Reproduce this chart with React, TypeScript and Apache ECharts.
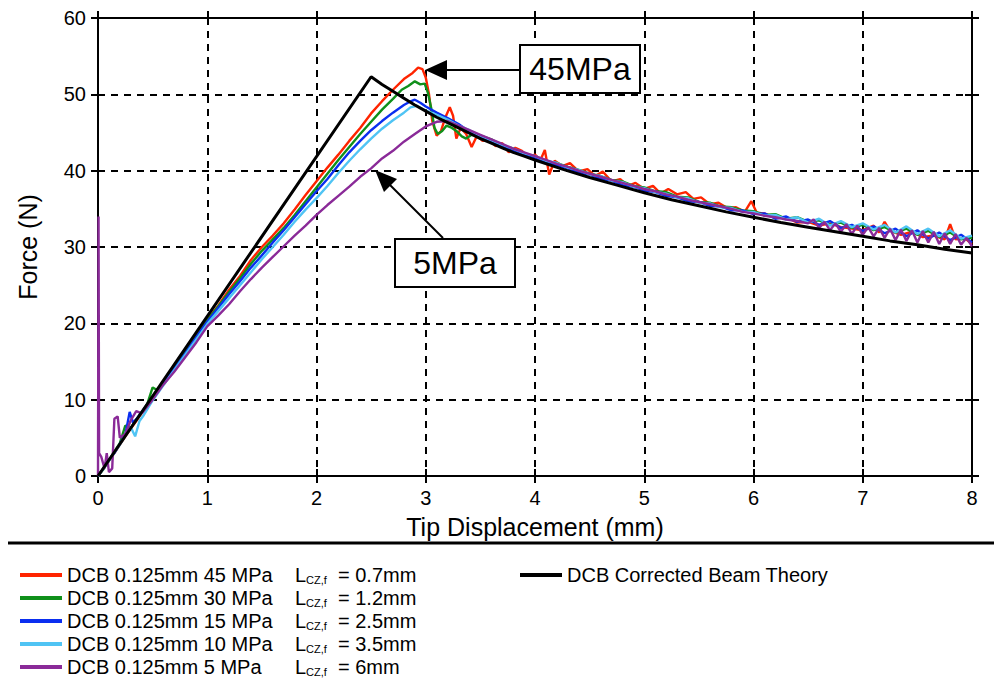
import React, { useEffect, useRef } from "react";
import * as echarts from "echarts";

const FONT = "'Liberation Sans', Arial, sans-serif";

const X_TICKS = [0, 8, 1];
const Y_TICKS = [0, 60, 10];

const SERIES_NAMES = [
  "DCB 0.125mm 45 MPa",
  "DCB 0.125mm 30 MPa",
  "DCB 0.125mm 15 MPa",
  "DCB 0.125mm 10 MPa",
  "DCB 0.125mm 5 MPa",
];
const LCZ_VALUES = ["0.7mm", "1.2mm", "2.5mm", "3.5mm", "6mm"];
const THEORY_NAME = "DCB Corrected Beam Theory";
const COLORS = ["#ff2400", "#10901a", "#0a2ef0", "#50c4f4", "#8a2a98"];

const RED_45 = [
  [0, 0], [0.05, 1.0], [0.1, 2.0], [0.15, 3.0], [0.2, 4.1], [0.25, 5.2], [0.3, 6.2], [0.35, 7.2], [0.4, 8.2],
  [0.5, 10.2], [0.6, 12.1], [0.7, 14.3], [0.8, 16.4], [0.9, 18.4], [1.0, 20.5], [1.1, 22.3], [1.2, 24.4],
  [1.3, 26.2], [1.4, 28.3], [1.5, 30.0], [1.6, 31.5], [1.7, 33.1], [1.8, 34.9], [1.9, 36.8], [2.0, 38.6],
  [2.1, 40.4], [2.2, 42.1], [2.3, 43.9], [2.4, 45.6], [2.5, 47.5], [2.6, 49.1], [2.7, 50.6], [2.8, 52.0],
  [2.88, 52.8], [2.93, 53.5], [2.97, 53.3], [3.0, 52.2], [3.03, 50.0], [3.06, 46.5], [3.1, 44.6], [3.14, 45.2],
  [3.18, 47.0], [3.22, 48.3], [3.25, 47.2], [3.28, 44.2], [3.32, 45.6], [3.37, 44.8], [3.42, 43.1], [3.47, 44.6],
  [3.52, 43.9], [3.58, 44.0], [3.64, 43.2], [3.7, 43.6], [3.76, 42.4], [3.82, 43.0], [3.88, 42.6], [3.94, 41.8],
  [4.0, 42.1], [4.05, 41.4], [4.09, 42.7], [4.13, 39.5], [4.18, 41.3], [4.25, 40.6], [4.32, 41.0], [4.4, 39.9],
  [4.48, 40.2], [4.55, 39.3], [4.62, 39.9], [4.7, 38.6], [4.78, 38.9], [4.85, 38.0], [4.92, 38.4], [5.0, 37.6],
  [5.08, 38.0], [5.15, 37.0], [5.22, 37.6], [5.3, 36.9], [5.38, 37.2], [5.45, 36.3], [5.52, 36.5], [5.6, 35.6],
  [5.68, 35.8], [5.76, 35.1], [5.84, 35.2], [5.92, 34.6], [5.98, 36.0], [6.03, 34.5], [6.1, 34.4], [6.2, 33.8],
  [6.3, 33.9], [6.4, 33.2], [6.5, 33.3], [6.6, 32.8], [6.7, 33.1], [6.8, 32.6], [6.9, 32.4], [7.0, 32.2],
  [7.1, 32.8], [7.15, 31.9], [7.2, 33.3], [7.25, 32.1], [7.35, 31.6], [7.45, 32.0], [7.55, 31.3], [7.65, 31.5],
  [7.75, 31.0], [7.8, 33.0], [7.85, 31.0], [7.93, 31.2], [8.0, 30.4],
];

const GREEN_30 = [
  [0, 0], [0.05, 0.9], [0.1, 2.0], [0.15, 3.2], [0.2, 4.3], [0.25, 6.6], [0.3, 6.3], [0.35, 7.4], [0.4, 8.3],
  [0.45, 9.4], [0.5, 11.6], [0.55, 11.2], [0.6, 12.3], [0.7, 14.2], [0.8, 16.3], [0.9, 18.3], [1.0, 20.4],
  [1.1, 22.2], [1.2, 24.1], [1.3, 25.9], [1.4, 27.8], [1.5, 29.5], [1.6, 31.0], [1.7, 32.5], [1.8, 34.2],
  [1.9, 36.0], [2.0, 37.8], [2.1, 39.6], [2.2, 41.4], [2.3, 43.1], [2.4, 44.8], [2.5, 46.4], [2.6, 48.0],
  [2.7, 49.4], [2.78, 50.6], [2.84, 51.1], [2.9, 51.7], [2.95, 51.3], [2.99, 51.4], [3.02, 50.2], [3.05, 48.2],
  [3.08, 45.6], [3.11, 44.8], [3.15, 45.2], [3.19, 45.9], [3.24, 45.6], [3.28, 45.2], [3.33, 44.5], [3.37, 44.2],
  [3.42, 44.7], [3.5, 44.6], [3.6, 44.1], [3.7, 43.3], [3.8, 42.9], [3.9, 42.2], [4.0, 41.9], [4.1, 41.2],
  [4.2, 41.0], [4.3, 40.5], [4.4, 40.1], [4.5, 39.6], [4.6, 39.3], [4.7, 38.8], [4.8, 38.6], [4.9, 38.0],
  [5.0, 37.8], [5.1, 37.3], [5.2, 37.2], [5.3, 36.6], [5.4, 36.5], [5.5, 35.9], [5.6, 35.8], [5.7, 35.3],
  [5.8, 35.2], [5.9, 34.8], [6.0, 34.7], [6.1, 34.2], [6.2, 34.3], [6.3, 33.7], [6.4, 33.9], [6.5, 33.3],
  [6.6, 33.5], [6.7, 32.9], [6.8, 33.2], [6.9, 32.5], [7.0, 32.9], [7.1, 32.2], [7.2, 32.6], [7.3, 31.9],
  [7.4, 32.4], [7.5, 31.6], [7.6, 32.1], [7.7, 31.3], [7.8, 31.9], [7.9, 31.0], [8.0, 31.2],
];

const BLUE_15 = [
  [0, 0], [0.05, 1.0], [0.1, 2.1], [0.15, 3.0], [0.2, 4.2], [0.25, 5.4], [0.29, 8.4], [0.32, 7.0], [0.36, 7.6],
  [0.4, 8.4], [0.5, 10.3], [0.6, 12.1], [0.7, 14.1], [0.8, 16.1], [0.9, 18.2], [1.0, 20.2], [1.1, 22.0],
  [1.2, 23.8], [1.3, 25.5], [1.4, 27.3], [1.5, 28.9], [1.6, 30.6], [1.7, 32.2], [1.8, 33.9], [1.9, 35.6],
  [2.0, 37.3], [2.1, 38.9], [2.2, 40.7], [2.3, 42.4], [2.4, 43.9], [2.5, 45.3], [2.6, 46.5], [2.7, 47.6],
  [2.8, 48.6], [2.85, 49.0], [2.9, 49.3], [2.95, 48.9], [3.0, 48.4], [3.1, 47.6], [3.2, 46.9], [3.3, 46.1],
  [3.4, 45.1], [3.5, 44.5], [3.6, 43.8], [3.7, 43.3], [3.8, 42.6], [3.9, 42.2], [4.0, 41.6], [4.1, 41.2],
  [4.2, 40.7], [4.3, 40.3], [4.4, 39.7], [4.5, 39.5], [4.6, 38.9], [4.7, 38.7], [4.8, 38.1], [4.9, 37.9],
  [5.0, 37.4], [5.1, 37.2], [5.2, 36.7], [5.3, 36.5], [5.4, 36.0], [5.5, 35.9], [5.6, 35.4], [5.7, 35.3],
  [5.8, 34.8], [5.9, 34.8], [6.0, 34.3], [6.1, 34.4], [6.2, 33.7], [6.3, 34.0], [6.4, 33.3], [6.5, 33.6],
  [6.6, 32.9], [6.7, 33.4], [6.8, 32.5], [6.9, 32.9], [7.0, 32.1], [7.1, 32.7], [7.2, 31.8], [7.3, 32.4],
  [7.4, 31.4], [7.5, 32.2], [7.6, 31.1], [7.7, 31.9], [7.8, 30.9], [7.9, 31.6], [8.0, 30.6],
];

const LIGHTBLUE_10 = [
  [0, 0], [0.05, 1.0], [0.1, 2.0], [0.15, 3.1], [0.2, 4.1], [0.25, 5.3], [0.3, 6.4], [0.34, 5.2], [0.38, 7.2],
  [0.42, 8.0], [0.5, 9.9], [0.6, 11.9], [0.7, 13.9], [0.8, 15.9], [0.9, 17.9], [1.0, 19.9], [1.1, 21.6],
  [1.2, 23.3], [1.3, 25.0], [1.4, 26.7], [1.5, 28.4], [1.6, 30.0], [1.7, 31.6], [1.8, 33.3], [1.9, 34.9],
  [2.0, 36.4], [2.1, 38.0], [2.2, 39.7], [2.3, 41.3], [2.4, 42.8], [2.5, 44.2], [2.6, 45.5], [2.7, 46.6],
  [2.8, 47.6], [2.86, 48.3], [2.92, 48.5], [2.98, 48.0], [3.05, 47.6], [3.1, 47.3], [3.2, 46.7], [3.3, 45.9],
  [3.4, 45.3], [3.5, 44.6], [3.6, 44.0], [3.7, 43.4], [3.8, 42.9], [3.9, 42.3], [4.0, 41.9], [4.1, 41.3],
  [4.2, 41.0], [4.3, 40.4], [4.4, 40.1], [4.5, 39.5], [4.6, 39.3], [4.7, 38.7], [4.8, 38.5], [4.9, 37.9],
  [5.0, 37.7], [5.1, 37.2], [5.2, 37.0], [5.3, 36.5], [5.4, 36.4], [5.5, 35.8], [5.6, 35.7], [5.7, 35.2],
  [5.8, 35.1], [5.9, 34.6], [6.0, 34.6], [6.1, 34.1], [6.2, 34.2], [6.3, 33.6], [6.4, 33.9], [6.5, 33.2],
  [6.6, 33.7], [6.7, 32.8], [6.8, 33.4], [6.9, 32.6], [7.0, 33.1], [7.1, 32.3], [7.2, 32.9], [7.3, 31.9],
  [7.4, 32.7], [7.5, 31.7], [7.6, 32.4], [7.7, 31.4], [7.8, 32.2], [7.9, 31.1], [8.0, 31.5],
];

const PURPLE_5 = [
  [0, 0], [0.005, 34.0], [0.01, 3.0], [0.03, 2.5], [0.06, 1.0], [0.08, 3.0], [0.1, 0.5], [0.13, 1.0],
  [0.15, 7.5], [0.18, 7.8], [0.2, 5.0], [0.25, 5.5], [0.3, 7.3], [0.35, 8.5], [0.4, 8.2], [0.5, 10.0],
  [0.6, 12.0], [0.7, 13.7], [0.8, 15.6], [0.9, 17.5], [1.0, 19.6], [1.1, 21.0], [1.2, 22.5], [1.3, 24.2],
  [1.4, 25.8], [1.5, 27.3], [1.6, 28.7], [1.7, 30.1], [1.8, 31.5], [1.9, 32.8], [2.0, 34.2], [2.1, 35.5],
  [2.2, 36.7], [2.3, 37.9], [2.4, 39.2], [2.5, 40.3], [2.6, 41.6], [2.7, 42.6], [2.8, 43.8], [2.9, 44.8],
  [3.0, 45.8], [3.1, 46.4], [3.2, 46.5], [3.3, 45.9], [3.4, 45.3], [3.5, 44.7], [3.6, 44.1], [3.7, 43.5],
  [3.8, 42.9], [3.9, 42.4], [4.0, 41.9], [4.1, 41.4], [4.2, 40.9], [4.3, 40.5], [4.4, 40.0], [4.5, 39.6],
  [4.6, 39.2], [4.7, 38.8], [4.8, 38.4], [4.9, 38.0], [5.0, 37.6], [5.1, 37.3], [5.2, 36.9], [5.3, 36.6],
  [5.4, 36.2], [5.5, 35.9], [5.6, 35.6], [5.7, 35.3], [5.8, 35.0], [5.9, 34.6], [6.0, 34.4], [6.1, 34.1],
  [6.2, 33.9], [6.3, 33.6], [6.4, 33.4], [6.5, 33.1], [6.55, 33.6], [6.6, 32.5], [6.65, 33.3], [6.7, 32.2],
  [6.75, 33.1], [6.8, 32.0], [6.85, 33.0], [6.9, 31.7], [6.95, 32.8], [7.0, 31.6], [7.05, 32.6], [7.1, 31.4],
  [7.15, 32.5], [7.2, 31.2], [7.25, 32.4], [7.3, 30.9], [7.35, 32.3], [7.4, 30.8], [7.45, 32.2], [7.5, 30.6],
  [7.55, 32.1], [7.6, 30.6], [7.65, 32.0], [7.7, 30.4], [7.75, 31.8], [7.8, 30.4], [7.85, 31.7], [7.9, 30.3],
  [7.95, 31.2], [8.0, 30.1],
];

const THEORY = [
  [0, 0], [2.5, 52.3], [2.6, 51.3], [2.7, 50.4], [2.8, 49.5], [2.9, 48.6], [3.0, 47.8], [3.1, 47.0],
  [3.2, 46.3], [3.3, 45.6], [3.4, 44.9], [3.5, 44.2], [3.6, 43.6], [3.7, 43.0], [3.8, 42.4], [3.9, 41.9],
  [4.0, 41.4], [4.25, 40.2], [4.5, 39.1], [4.75, 38.1], [5.0, 37.1], [5.25, 36.2], [5.5, 35.4], [5.75, 34.6],
  [6.0, 33.9], [6.25, 33.2], [6.5, 32.6], [6.75, 32.0], [7.0, 31.4], [7.25, 30.8], [7.5, 30.3], [7.75, 29.7],
  [8.0, 29.2],
];

const EXPERIMENTS = [RED_45, GREEN_30, BLUE_15, LIGHTBLUE_10, PURPLE_5];

function makeAxis(extra: any, range: number[]) {
  return {
    type: "value",
    min: range[0],
    max: range[1],
    interval: range[2],
    axisLine: { show: true, onZero: false, lineStyle: { color: "#000", width: 2 } },
    axisTick: { show: true, length: 7, lineStyle: { color: "#000", width: 2 } },
    axisLabel: { show: false },
    splitLine: { show: false },
    ...extra,
  };
}

export default function App() {
  const ref = useRef<HTMLDivElement>(null);
  useEffect(() => {
    if (!ref.current) return;
    const chart = echarts.init(ref.current, null, { renderer: "svg" });
    const dashed = { show: true, lineStyle: { color: "#000", width: 2, type: [7, 6] } };
    const labelStyle = { show: true, color: "#000", fontSize: 20, fontFamily: FONT };
    const insideTick = { show: true, inside: true, length: 7, lineStyle: { color: "#000", width: 2 } };
    const series: any[] = [];
    EXPERIMENTS.forEach((d, i) => {
      series.push({
        name: SERIES_NAMES[i],
        type: "line",
        data: d,
        showSymbol: false,
        symbol: "none",
        color: COLORS[i],
        itemStyle: { color: COLORS[i] },
        lineStyle: { color: COLORS[i], width: 2.4 },
        z: 2 + i,
      });
    });
    series.push({
      name: THEORY_NAME,
      type: "line",
      data: THEORY,
      showSymbol: false,
      symbol: "none",
      color: "#000",
      itemStyle: { color: "#000" },
      lineStyle: { color: "#000", width: 3 },
      z: 10,
    });

    const option: any = {
      animation: false,
      backgroundColor: "#fff",
      textStyle: { fontFamily: FONT },
      grid: { left: 98, right: 22, top: 18, bottom: 207, containLabel: false },
      xAxis: [
        makeAxis(
          {
            position: "bottom",
            axisLabel: { ...labelStyle, margin: 12 },
            splitLine: dashed,
            name: "Tip Displacement (mm)",
            nameLocation: "middle",
            nameGap: 38,
            nameTextStyle: { color: "#000", fontSize: 25, fontFamily: FONT },
          },
          X_TICKS
        ),
        makeAxis({ position: "bottom", axisTick: insideTick }, X_TICKS),
        makeAxis({ position: "top" }, X_TICKS),
        makeAxis({ position: "top", axisTick: insideTick }, X_TICKS),
      ],
      yAxis: [
        makeAxis(
          {
            position: "left",
            axisLabel: { ...labelStyle, margin: 12 },
            splitLine: dashed,
            name: "Force (N)",
            nameLocation: "middle",
            nameGap: 58,
            nameRotate: 90,
            nameTextStyle: { color: "#000", fontSize: 25, fontFamily: FONT },
          },
          Y_TICKS
        ),
        makeAxis({ position: "left", axisTick: insideTick }, Y_TICKS),
        makeAxis({ position: "right" }, Y_TICKS),
        makeAxis({ position: "right", axisTick: insideTick }, Y_TICKS),
      ],
      legend: [
        {
          data: SERIES_NAMES,
          orient: "vertical",
          left: 20,
          top: 565,
          height: 118,
          padding: 0,
          icon: "rect",
          itemWidth: 42,
          itemHeight: 4,
          itemGap: 3,
          selectedMode: false,
          textStyle: {
            color: "#000",
            fontSize: 20,
            fontFamily: FONT,
            rich: {
              n: { fontSize: 20, fontFamily: FONT, color: "#000", width: 228, lineHeight: 20 },
              l: { fontSize: 20, fontFamily: FONT, color: "#000", lineHeight: 20 },
              s: { fontSize: 11, fontFamily: FONT, color: "#000", padding: [9, 0, 0, 0], lineHeight: 12 },
              v: { fontSize: 20, fontFamily: FONT, color: "#000", lineHeight: 20 },
            },
          },
          formatter: (name: string) => {
            const i = SERIES_NAMES.indexOf(name);
            return `{n|${name}}{l|L}{s|CZ,f}{v|  = ${LCZ_VALUES[i]}}`;
          },
        },
        {
          data: [THEORY_NAME],
          orient: "vertical",
          left: 520,
          top: 565,
          padding: 0,
          icon: "rect",
          itemWidth: 42,
          itemHeight: 4,
          selectedMode: false,
          textStyle: { color: "#000", fontSize: 20, fontFamily: FONT, lineHeight: 20 },
        },
      ],
      graphic: [
        { type: "line", shape: { x1: 8, y1: 543, x2: 994, y2: 543 }, style: { stroke: "#000", lineWidth: 3 } },
        { type: "line", shape: { x1: 445, y1: 70, x2: 520, y2: 70 }, style: { stroke: "#000", lineWidth: 2 }, z: 20 },
        { type: "polygon", shape: { points: [[425, 70], [447, 60], [447, 80]] }, style: { fill: "#000" }, z: 20 },
        { type: "rect", shape: { x: 520, y: 45, width: 120, height: 48 }, style: { fill: "#fff", stroke: "#000", lineWidth: 2 }, z: 20 },
        {
          type: "text",
          x: 580,
          y: 69,
          style: { text: "45MPa", fontSize: 32, fontFamily: FONT, fill: "#000", align: "center", verticalAlign: "middle" },
          z: 21,
        },
        { type: "line", shape: { x1: 390, y1: 185, x2: 443, y2: 238 }, style: { stroke: "#000", lineWidth: 2 }, z: 20 },
        { type: "polygon", shape: { points: [[375, 170], [384, 192], [397, 179]] }, style: { fill: "#000" }, z: 20 },
        { type: "rect", shape: { x: 395, y: 239, width: 120, height: 48 }, style: { fill: "#fff", stroke: "#000", lineWidth: 2 }, z: 20 },
        {
          type: "text",
          x: 455,
          y: 263,
          style: { text: "5MPa", fontSize: 32, fontFamily: FONT, fill: "#000", align: "center", verticalAlign: "middle" },
          z: 21,
        },
      ],
      series,
    };
    chart.setOption(option);
    return () => chart.dispose();
  }, []);
  return <div ref={ref} style={{ position: "absolute", left: 0, top: 0, width: 994, height: 683 }} />;
}
